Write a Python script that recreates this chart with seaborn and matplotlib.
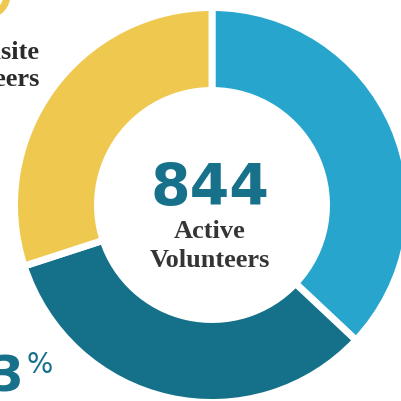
import matplotlib
matplotlib.use("Agg")
import matplotlib.pyplot as plt
import seaborn as sns
from matplotlib.patches import Circle

# Data
categories = ["Active - group A", "Active - group B", "Onsite Volunteers"]
shares = [37, 33, 30]
colors = ["#28A5CD", "#157089", "#EFC94F"]
total_label = "844"
center_lines = ["Active", "Volunteers"]
side_label = ["Onsite", "Volunteers"]
pct_label = "33"

sns.set_theme(style="white")

W, H = 402, 401
fig = plt.figure(figsize=(W / 100, H / 100), dpi=100)
ax = fig.add_axes([0, 0, 1, 1])

cx, cy = 212, H - 205
R = 197.5
ax.pie(shares, colors=colors, startangle=90, counterclock=False,
       center=(cx, cy), radius=R,
       wedgeprops=dict(width=83, edgecolor="white", linewidth=5))
ax.set_xlim(0, W)
ax.set_ylim(0, H)
ax.set_aspect("equal")
ax.axis("off")

teal = "#17718B"
ax.text(210, H - 205, total_label, ha="center", va="baseline",
        fontsize=41, fontweight="bold", color=teal, family="DejaVu Sans")
ax.text(210, H - 238, center_lines[0], ha="center", va="baseline",
        fontsize=19, fontweight="bold", color="#353535", family="Liberation Serif")
ax.text(210, H - 267, center_lines[1], ha="center", va="baseline",
        fontsize=19, fontweight="bold", color="#353535", family="Liberation Serif")

ax.text(40, H - 59, side_label[0], ha="right", va="baseline",
        fontsize=19, fontweight="bold", color="#2b2b2b", family="Liberation Serif")
ax.text(40, H - 86, side_label[1], ha="right", va="baseline",
        fontsize=19, fontweight="bold", color="#2b2b2b", family="Liberation Serif")

ax.text(25, H - 392, pct_label, ha="right", va="baseline",
        fontsize=35, fontweight="bold", color=teal, family="DejaVu Sans")
ax.text(27, H - 351, "%", ha="left", va="top",
        fontsize=20, color=teal, family="DejaVu Sans")

ax.add_patch(Circle((-13, H + 5), 20, fill=False, edgecolor="#EFC94F", linewidth=5))

fig.savefig("out.png", dpi=100)
